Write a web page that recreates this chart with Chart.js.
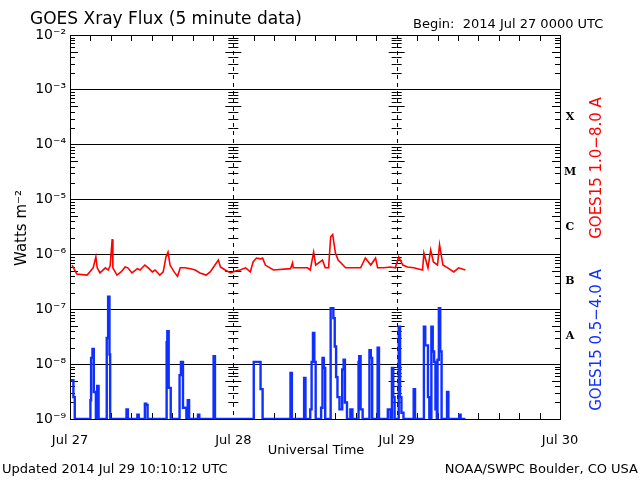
<!DOCTYPE html>
<html>
<head>
<meta charset="utf-8">
<script src="https://cdn.jsdelivr.net/npm/chart.js@4"></script>
<style>
  html, body { margin: 0; padding: 0; background: #fff; }
  #wrap { width: 640px; height: 480px; position: relative; }
</style>
</head>
<body>
<div id="wrap"><canvas id="chart" width="640" height="480"></canvas></div>
<script>
// hours since 2014 Jul 27 0000 UTC
const dayTicks = [0, 24, 48, 72];
const dayLabels = ['Jul 27', 'Jul 28', 'Jul 29', 'Jul 30'];
const decades = [1e-9, 1e-8, 1e-7, 1e-6, 1e-5, 1e-4, 1e-3, 1e-2];
const decadeLabels = ['10⁻⁹', '10⁻⁸', '10⁻⁷', '10⁻⁶', '10⁻⁵', '10⁻⁴', '10⁻³', '10⁻²'];
const classLetters = ['A', 'B', 'C', 'M', 'X'];
const classValues = [3.2e-8, 3.2e-7, 3.2e-6, 3.2e-5, 3.2e-4];

// GOES15 1.0-8.0 A (long channel)
const longTimes = [0.3, 1.0, 2.5, 2.9, 3.4, 3.8, 4.0, 4.4, 5.2, 5.6, 5.9, 6.2, 6.3, 6.9, 7.5, 8.1, 8.5, 9.1,
  9.9, 10.3, 11.0, 11.5, 12.1, 12.5, 13.2, 13.7, 14.1, 14.4, 14.7, 15.3, 15.8, 16.2, 16.9, 17.7, 18.4,
  19.1, 20.0, 20.6, 21.3, 21.8, 22.1, 22.8, 23.6, 24.3, 25.0, 25.8, 26.5, 26.9, 27.4, 28.0, 28.3, 28.7,
  29.9, 32.4, 32.7, 32.8, 34.9, 35.3, 35.8, 36.1, 37.1, 37.5, 38.0, 38.3, 38.6, 39.0, 39.4, 40.5, 41.5,
  42.7, 43.4, 44.2, 44.9, 45.2, 46.1, 47.1, 47.8, 48.3, 48.9, 49.6, 50.5, 51.8, 52.0, 52.6, 53.0, 53.4,
  54.0, 54.3, 54.8, 55.5, 56.4, 57.1, 58.1];
const longFlux = [6.4e-7, 4.4e-7, 4.2e-7, 4.8e-7, 5.7e-7, 9.0e-7, 5.7e-7, 4.6e-7, 5.7e-7, 5.2e-7, 6.2e-7, 1.9e-6, 5.7e-7, 4.2e-7,
  4.8e-7, 5.9e-7, 5.7e-7, 4.6e-7, 5.5e-7, 5.2e-7, 6.4e-7, 5.7e-7, 4.8e-7, 5.2e-7, 4.2e-7, 4.8e-7, 9.0e-7, 1.1e-6, 6.4e-7,
  4.8e-7, 4.0e-7, 5.7e-7, 5.7e-7, 5.5e-7, 5.2e-7, 4.6e-7, 4.2e-7, 4.8e-7, 6.4e-7, 7.9e-7, 5.9e-7, 5.2e-7, 4.6e-7,
  5.0e-7, 5.2e-7, 5.7e-7, 4.8e-7, 7.3e-7, 8.6e-7, 8.3e-7, 8.6e-7, 6.4e-7, 5.2e-7, 5.5e-7, 7.0e-7, 5.7e-7, 5.7e-7,
  5.2e-7, 1.1e-6, 6.4e-7, 7.9e-7, 5.7e-7, 5.7e-7, 2.1e-6, 2.3e-6, 1.06e-6, 7.9e-7, 5.7e-7, 5.7e-7, 5.7e-7, 8.6e-7,
  6.4e-7, 8.6e-7, 5.7e-7, 5.7e-7, 5.9e-7, 5.7e-7, 9.0e-7, 6.4e-7, 5.9e-7, 5.7e-7, 5.2e-7, 1.06e-6, 5.7e-7, 1.2e-6,
  7.3e-7, 6.4e-7, 1.5e-6, 6.4e-7, 5.7e-7, 4.8e-7, 5.7e-7, 5.2e-7];

// GOES15 0.5-4.0 A (short channel), one line per burst
const shortTimes = [
  0.0, 0.3, 0.5, 0.7,
  3.0, 3.1, 3.3, 3.5, 3.8,
  4.0, 4.2,
  5.4, 5.6, 5.8, 5.9,
  8.3, 8.5,
  9.9, 10.1,
  11.0, 11.2, 11.4,
  14.2, 14.3, 14.5, 14.8,
  16.1, 16.3, 16.6, 17.1, 17.3, 17.5,
  18.8, 19.0,
  21.1, 21.3,
  27.0, 27.2, 27.4, 28.0, 28.3,
  32.4, 32.6,
  34.4, 34.6,
  35.3, 35.5, 35.7, 35.9, 36.1,
  36.9, 37.1, 37.3, 37.5,
  38.3, 38.5, 38.7, 38.9, 39.1, 39.3, 39.6, 40.0, 40.2, 40.4, 40.7,
  41.2, 41.5,
  42.4, 42.5, 42.7, 43.0,
  44.0, 44.2, 44.4,
  45.2, 45.4,
  46.7, 47.1,
  47.3, 47.5, 47.7,
  48.3, 48.5, 48.7, 49.0,
  50.5, 50.7,
  52.0, 52.2, 52.4, 52.6, 52.8,
  53.1, 53.3, 53.5, 53.7, 53.9,
  54.0, 54.2, 54.4, 54.6,
  55.4, 55.6,
  57.2, 57.4, 58.1];
const shortFlux = [
  5.1e-9, 5.1e-9, 2.5e-9, 1e-9,
  2.2e-9, 1.3e-8, 1.9e-8, 3.1e-9, 1e-9,
  4.0e-9, 1e-9,
  3.0e-8, 1.7e-7, 1.5e-8, 1e-9,
  1.5e-9, 1e-9,
  1.2e-9, 1e-9,
  1.9e-9, 1.8e-9, 1e-9,
  2.5e-8, 4.0e-8, 3.7e-9, 1e-9,
  6.3e-9, 1.1e-8, 1.6e-9, 1e-9, 2.2e-9, 1e-9,
  1.2e-9, 1e-9,
  1.4e-8, 1e-9,
  1.1e-8, 1.1e-8, 1.1e-8, 3.5e-9, 1e-9,
  6.9e-9, 1e-9,
  5.6e-9, 1e-9,
  1.5e-9, 1.1e-8, 3.7e-8, 1.1e-8, 1e-9,
  1.6e-9, 1.3e-8, 8.5e-9, 1e-9,
  1.05e-7, 1.05e-7, 6.9e-8, 2.1e-8, 5.8e-9, 2.5e-9, 1.5e-9, 8e-9, 1.2e-8, 2.0e-9, 1e-9,
  1.5e-9, 1e-9,
  1.1e-8, 1.4e-8, 1.5e-9, 1e-9,
  1.8e-8, 1.3e-8, 1e-9,
  2.0e-8, 1e-9,
  1.5e-9, 1e-9,
  8.5e-9, 2.5e-9, 1e-9,
  4.8e-8, 2.5e-9, 1.3e-9, 1e-9,
  3.5e-9, 1e-9,
  4.8e-8, 2.2e-8, 2.2e-8, 2.5e-9, 1e-9,
  4.8e-8, 1.7e-8, 1.1e-8, 1.5e-9, 1e-9,
  1.2e-8, 1.05e-7, 1.7e-8, 1e-9,
  3.1e-9, 1e-9,
  1.2e-9, 1e-9, 1e-9];

const FONT = '"DejaVu Sans", sans-serif';

function toPoints(times, values) {
    return times.map((t, i) => ({ x: t, y: values[i] }));
}

const decorations = {
    id: 'decorations',
    beforeDatasetsDraw(chart) {
        const { ctx, chartArea: a, scales: { x, y } } = chart;
        ctx.save();
        ctx.strokeStyle = '#000';
        ctx.lineWidth = 1;
        // dashed day separators
        ctx.setLineDash([4, 4]);
        [24, 48].forEach(t => {
            const px = Math.round(x.getPixelForValue(t)) + 0.5;
            ctx.beginPath();
            ctx.moveTo(px, a.top);
            ctx.lineTo(px, a.bottom);
            ctx.stroke();
        });
        ctx.setLineDash([]);
        // minor log ticks on the edges and separators
        const cols = [[a.left, 1], [a.right, -1]];
        [24, 48].forEach(t => {
            const px = x.getPixelForValue(t);
            cols.push([px, 1], [px, -1]);
        });
        for (let e = -9; e < -2; e++) {
            for (let m = 2; m <= 9; m++) {
                const py = Math.round(y.getPixelForValue(m * Math.pow(10, e))) + 0.5;
                const len = (m === 5) ? 8 : 5;
                cols.forEach(([px, dir]) => {
                    ctx.beginPath();
                    ctx.moveTo(px, py);
                    ctx.lineTo(px + dir * len, py);
                    ctx.stroke();
                });
            }
        }
        // 3-hour ticks
        for (let t = 3; t < 72; t += 3) {
            if (t % 24 === 0) continue;
            const px = Math.round(x.getPixelForValue(t)) + 0.5;
            ctx.beginPath();
            ctx.moveTo(px, a.bottom); ctx.lineTo(px, a.bottom - 6);
            ctx.moveTo(px, a.top); ctx.lineTo(px, a.top + 6);
            ctx.stroke();
        }
        ctx.restore();
    },
    afterDraw(chart) {
        const { ctx, chartArea: a, scales: { y } } = chart;
        ctx.save();
        ctx.strokeStyle = '#000';
        ctx.lineWidth = 1;
        ctx.strokeRect(a.left + 0.5, a.top + 0.5, a.right - a.left, a.bottom - a.top);

        ctx.fillStyle = '#000';
        ctx.font = '17px ' + FONT;
        ctx.textAlign = 'left';
        ctx.textBaseline = 'alphabetic';
        ctx.fillText('GOES Xray Flux (5 minute data)', 30, 24);
        ctx.font = '13px ' + FONT;
        ctx.fillText('Begin:  2014 Jul 27 0000 UTC', 413, 28);
        ctx.fillText('Updated 2014 Jul 29 10:10:12 UTC', 2, 473);
        ctx.textAlign = 'right';
        ctx.fillText('NOAA/SWPC Boulder, CO USA', 638, 473);
        ctx.textAlign = 'center';
        ctx.fillText('Universal Time', 316, 454);

        ctx.font = 'bold 11px "DejaVu Serif", serif';
        ctx.textBaseline = 'middle';
        classLetters.forEach((c, i) => {
            ctx.fillText(c, 570, y.getPixelForValue(classValues[i]));
        });

        ctx.font = '15px ' + FONT;
        ctx.save();
        ctx.translate(22, 228);
        ctx.rotate(-Math.PI / 2);
        ctx.fillText('Watts m⁻²', 0, 0);
        ctx.restore();

        ctx.save();
        ctx.translate(597, 168);
        ctx.rotate(-Math.PI / 2);
        ctx.fillStyle = '#ff0000';
        ctx.fillText('GOES15 1.0−8.0 A', 0, 0);
        ctx.restore();

        ctx.save();
        ctx.translate(597, 340);
        ctx.rotate(-Math.PI / 2);
        ctx.fillStyle = '#1030ff';
        ctx.fillText('GOES15 0.5−4.0 A', 0, 0);
        ctx.restore();
        ctx.restore();
    }
};

new Chart(document.getElementById('chart'), {
    type: 'line',
    data: {
        datasets: [{
            label: 'GOES15 1.0-8.0 A',
            data: toPoints(longTimes, longFlux),
            borderColor: '#ff0000',
            borderWidth: 1.6,
            pointRadius: 0,
            tension: 0
        }, {
            label: 'GOES15 0.5-4.0 A',
            data: toPoints(shortTimes, shortFlux),
            borderColor: '#1030ff',
            borderWidth: 2.4,
            pointRadius: 0,
            stepped: 'before'
        }]
    },
    options: {
        responsive: false,
        animation: false,
        events: [],
        layout: { padding: { top: 35, right: 80, left: 0, bottom: 0 } },
        plugins: { legend: { display: false }, tooltip: { enabled: false } },
        scales: {
            x: {
                type: 'linear',
                min: 0,
                max: 72,
                afterBuildTicks: s => { s.ticks = dayTicks.map(v => ({ value: v })); },
                afterFit: s => { s.height = 61; },
                grid: { display: false },
                border: { display: false },
                ticks: {
                    color: '#000',
                    font: { family: FONT, size: 13 },
                    maxRotation: 0,
                    padding: 6,
                    callback: (v) => dayLabels[dayTicks.indexOf(v)]
                }
            },
            y: {
                type: 'logarithmic',
                min: 1e-9,
                max: 1e-2,
                afterBuildTicks: s => { s.ticks = decades.map(v => ({ value: v })); },
                afterFit: s => { s.width = 70; },
                grid: { color: '#000', lineWidth: 1, drawTicks: false },
                border: { display: false },
                ticks: {
                    color: '#000',
                    font: { family: FONT, size: 14 },
                    padding: 4,
                    callback: (v) => decadeLabels[decades.indexOf(v)]
                }
            }
        }
    },
    plugins: [decorations]
});
</script>
</body>
</html>
